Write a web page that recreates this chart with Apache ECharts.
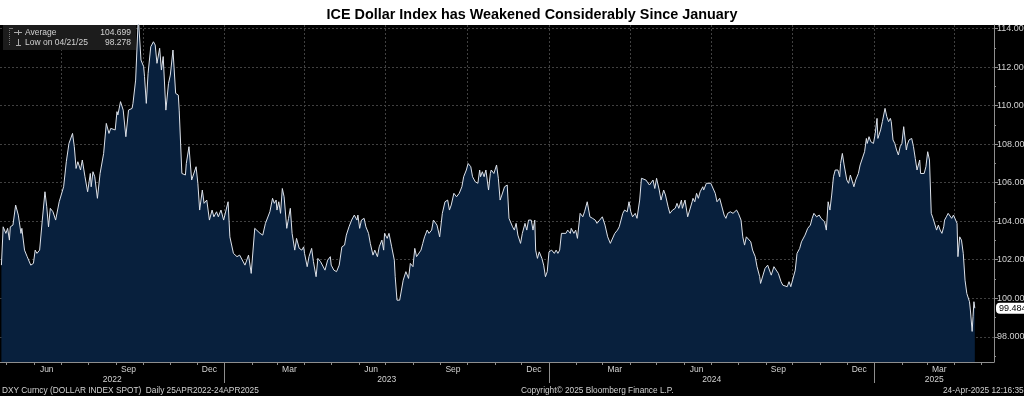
<!DOCTYPE html>
<html>
<head>
<meta charset="utf-8">
<title>ICE Dollar Index</title>
<script src="https://cdn.jsdelivr.net/npm/echarts@6/dist/echarts.min.js"></script>
<style>
  html, body { margin: 0; padding: 0; background: #fff; }
  #chart { width: 1024px; height: 396px; }
</style>
</head>
<body>
<div id="chart"></div>
<script>
// DXY spot (25APR2022 - 24APR2025)
const dates = [
  '2022-04-25','2022-04-27','2022-04-30','2022-05-02','2022-05-04','2022-05-05','2022-05-08','2022-05-11','2022-05-14','2022-05-17',
  '2022-05-18','2022-05-21','2022-05-24','2022-05-28','2022-05-31','2022-06-02','2022-06-04','2022-06-07','2022-06-10','2022-06-13',
  '2022-06-15','2022-06-17','2022-06-19','2022-06-22','2022-06-25','2022-06-29','2022-07-01','2022-07-04','2022-07-07','2022-07-08',
  '2022-07-10','2022-07-12','2022-07-14','2022-07-16','2022-07-18','2022-07-20','2022-07-23','2022-07-25','2022-07-28','2022-07-31',
  '2022-08-03','2022-08-04','2022-08-06','2022-08-08','2022-08-11','2022-08-12','2022-08-14','2022-08-16','2022-08-18','2022-08-21',
  '2022-08-24','2022-08-26','2022-08-31','2022-09-02','2022-09-03','2022-09-06','2022-09-09','2022-09-12','2022-09-15','2022-09-19',
  '2022-09-20','2022-09-23','2022-09-26','2022-09-29','2022-10-02','2022-10-03','2022-10-05','2022-10-07','2022-10-10','2022-10-13',
  '2022-10-15','2022-10-17','2022-10-20','2022-10-22','2022-10-24','2022-10-27','2022-10-30','2022-11-01','2022-11-03','2022-11-04',
  '2022-11-07','2022-11-10','2022-11-11','2022-11-14','2022-11-18','2022-11-19','2022-11-22','2022-11-25','2022-11-27','2022-11-30',
  '2022-12-02','2022-12-04','2022-12-07','2022-12-09','2022-12-12','2022-12-15','2022-12-18','2022-12-20','2022-12-23','2022-12-25',
  '2022-12-28','2022-12-31',
  '2023-01-05','2023-01-07','2023-01-11','2023-01-15','2023-01-18','2023-01-24','2023-01-28','2023-01-31','2023-02-04','2023-02-10',
  '2023-02-13','2023-02-16','2023-02-18','2023-02-21','2023-02-24','2023-02-26','2023-02-28','2023-03-01','2023-03-03','2023-03-05',
  '2023-03-07','2023-03-09','2023-03-12','2023-03-14','2023-03-16','2023-03-18','2023-03-21','2023-03-23','2023-03-26','2023-03-29',
  '2023-03-31','2023-04-01','2023-04-04','2023-04-06','2023-04-09','2023-04-11','2023-04-14','2023-04-16','2023-04-19','2023-04-21',
  '2023-04-24','2023-04-27','2023-04-30','2023-05-01','2023-05-04','2023-05-07','2023-05-10','2023-05-13','2023-05-16','2023-05-18',
  '2023-05-21','2023-05-24','2023-05-27','2023-05-30','2023-05-31','2023-06-02','2023-06-04','2023-06-07','2023-06-09','2023-06-12',
  '2023-06-14','2023-06-17','2023-06-19','2023-06-22','2023-06-24','2023-06-27','2023-06-29','2023-06-30','2023-07-03','2023-07-05',
  '2023-07-08','2023-07-11','2023-07-12','2023-07-14','2023-07-17','2023-07-19','2023-07-21','2023-07-24','2023-07-27','2023-07-29',
  '2023-08-01','2023-08-03','2023-08-05','2023-08-07','2023-08-10','2023-08-12','2023-08-14','2023-08-17','2023-08-19','2023-08-22',
  '2023-08-24','2023-08-26','2023-08-28','2023-08-31','2023-09-03','2023-09-06','2023-09-09','2023-09-11','2023-09-13','2023-09-16',
  '2023-09-19','2023-09-22','2023-09-25','2023-09-27','2023-09-30','2023-10-02','2023-10-05','2023-10-07','2023-10-10','2023-10-13',
  '2023-10-15','2023-10-16','2023-10-18','2023-10-20','2023-10-22','2023-10-25','2023-10-27','2023-10-28','2023-10-31','2023-11-03',
  '2023-11-05','2023-11-07','2023-11-09','2023-11-12','2023-11-15','2023-11-17','2023-11-19','2023-11-21','2023-11-23','2023-11-25',
  '2023-11-27','2023-11-30','2023-12-02','2023-12-05','2023-12-07','2023-12-09','2023-12-11','2023-12-12','2023-12-14','2023-12-16',
  '2023-12-17','2023-12-19','2023-12-21','2023-12-24','2023-12-26','2023-12-28','2023-12-30',
  '2024-01-01','2024-01-04','2024-01-07','2024-01-09','2024-01-11','2024-01-13','2024-01-15','2024-01-17','2024-01-20','2024-01-22',
  '2024-01-25','2024-01-26','2024-01-29','2024-01-31','2024-02-02','2024-02-05','2024-02-08','2024-02-10','2024-02-13','2024-02-16',
  '2024-02-19','2024-02-22','2024-02-24','2024-02-27','2024-03-01','2024-03-04','2024-03-07','2024-03-10','2024-03-12','2024-03-15',
  '2024-03-18','2024-03-20','2024-03-22','2024-03-24','2024-03-26','2024-03-29','2024-03-31','2024-04-02','2024-04-04','2024-04-07',
  '2024-04-09','2024-04-12','2024-04-14','2024-04-16','2024-04-19','2024-04-21','2024-04-23','2024-04-25','2024-04-27','2024-04-29',
  '2024-05-01','2024-05-04','2024-05-06','2024-05-09','2024-05-11','2024-05-14','2024-05-16','2024-05-19','2024-05-22','2024-05-24',
  '2024-05-26','2024-05-29','2024-05-30','2024-06-02','2024-06-05','2024-06-07','2024-06-10','2024-06-11','2024-06-13','2024-06-15',
  '2024-06-17','2024-06-19','2024-06-22','2024-06-23','2024-06-26','2024-06-28','2024-07-01','2024-07-03','2024-07-06','2024-07-08',
  '2024-07-11','2024-07-13','2024-07-16','2024-07-18','2024-07-20','2024-07-23','2024-07-26','2024-07-28','2024-07-30','2024-08-01',
  '2024-08-04','2024-08-06','2024-08-08','2024-08-10','2024-08-12','2024-08-15','2024-08-17','2024-08-20','2024-08-22','2024-08-25',
  '2024-08-26','2024-08-28','2024-08-31','2024-09-03','2024-09-05','2024-09-07','2024-09-10','2024-09-12','2024-09-15','2024-09-18',
  '2024-09-20','2024-09-22','2024-09-25','2024-09-27','2024-09-29','2024-10-01','2024-10-04','2024-10-06','2024-10-09','2024-10-11',
  '2024-10-13','2024-10-15','2024-10-18','2024-10-21','2024-10-23','2024-10-25','2024-10-28','2024-10-31','2024-11-02','2024-11-04',
  '2024-11-06','2024-11-08','2024-11-10','2024-11-12','2024-11-14','2024-11-16','2024-11-18','2024-11-21','2024-11-23','2024-11-24',
  '2024-11-26','2024-11-28','2024-12-01','2024-12-03','2024-12-05','2024-12-06','2024-12-09','2024-12-11','2024-12-14','2024-12-16',
  '2024-12-18','2024-12-21','2024-12-23','2024-12-24','2024-12-26','2024-12-28','2024-12-31',
  '2025-01-02','2025-01-04','2025-01-05','2025-01-08','2025-01-10','2025-01-13','2025-01-15','2025-01-17','2025-01-19','2025-01-20',
  '2025-01-22','2025-01-24','2025-01-26','2025-01-28','2025-01-30','2025-02-01','2025-02-03','2025-02-04','2025-02-06','2025-02-07',
  '2025-02-09','2025-02-12','2025-02-14','2025-02-16','2025-02-18','2025-02-19','2025-02-21','2025-02-22','2025-02-24','2025-02-26',
  '2025-02-28','2025-03-02','2025-03-04','2025-03-06','2025-03-08','2025-03-10','2025-03-12','2025-03-14','2025-03-16','2025-03-18',
  '2025-03-20','2025-03-21','2025-03-23','2025-03-25','2025-03-27','2025-03-29','2025-03-31','2025-04-02','2025-04-04','2025-04-05',
  '2025-04-07','2025-04-09','2025-04-11','2025-04-13','2025-04-15','2025-04-17','2025-04-18','2025-04-19','2025-04-20','2025-04-21',
  '2025-04-22','2025-04-23','2025-04-24'
];
const values = [
  101.72,103.71,103.37,103.63,103.02,103.71,103.80,104.84,104.32,103.37,
  103.63,102.50,102.16,101.72,101.81,102.50,102.33,102.50,104.06,105.53,
  104.75,103.71,104.67,104.49,104.06,105.01,105.10,105.79,107.09,107.18,
  108.04,108.13,108.56,107.87,106.74,107.09,106.66,107.18,106.31,105.53,
  106.48,105.79,106.57,106.31,105.19,105.19,106.48,106.57,107.52,109.08,
  108.56,108.82,108.74,109.69,109.52,110.21,109.77,108.39,109.77,109.86,
  110.12,111.33,114.60,112.37,112.03,111.51,110.12,111.68,113.06,113.32,
  113.15,112.20,112.98,111.85,112.55,109.77,111.16,111.59,111.51,112.89,
  110.64,110.55,109.77,106.48,106.40,107.00,107.87,106.14,106.05,106.83,
  105.97,104.58,105.62,104.93,105.10,104.06,104.58,104.23,104.49,104.23,
  104.58,104.06,
  105.01,103.19,102.33,102.16,102.24,101.72,102.24,101.29,103.63,103.37,
  103.28,103.89,103.97,104.49,105.19,104.93,105.10,104.58,105.01,104.41,
  105.70,105.27,103.63,104.15,104.67,103.37,102.50,103.11,102.59,102.50,
  102.67,102.33,101.64,102.16,102.59,101.90,101.12,102.07,101.90,101.98,
  101.46,101.98,102.16,101.72,101.46,101.38,101.72,102.67,102.76,103.28,
  103.71,104.06,104.32,104.06,104.32,103.63,104.06,104.15,103.71,103.37,
  102.85,102.24,102.50,102.16,102.67,103.02,102.50,103.37,103.11,103.37,
  102.67,101.98,101.12,99.90,99.90,99.99,100.94,101.38,101.03,101.81,
  101.64,102.59,102.16,102.07,102.50,102.85,103.19,103.54,103.37,103.54,
  104.06,104.06,103.80,103.19,104.41,105.01,105.10,104.58,104.84,105.45,
  105.27,105.45,105.79,106.31,106.66,107.00,106.83,106.31,106.05,105.97,
  106.66,106.31,106.57,106.31,106.66,105.62,106.48,106.66,106.48,106.92,
  106.23,105.10,105.36,105.79,105.88,104.15,104.15,103.71,103.54,103.89,
  103.28,102.85,103.37,103.89,103.54,104.06,104.15,104.06,103.54,104.06,
  102.50,102.07,102.41,102.07,101.72,101.12,101.38,
  102.41,102.50,102.33,102.50,102.33,102.50,103.37,103.45,103.37,103.54,
  103.37,103.63,103.37,103.54,103.11,104.41,104.23,104.49,105.01,104.23,
  104.15,104.06,103.89,104.06,104.23,103.80,103.19,102.85,102.93,103.37,
  103.54,103.71,104.06,104.41,104.58,104.49,105.01,104.49,104.23,104.41,
  104.15,105.10,106.23,106.31,106.14,106.23,105.88,105.79,106.14,105.70,
  106.23,105.62,105.10,105.62,105.36,104.75,104.41,104.58,104.67,104.93,
  104.67,105.10,104.67,105.10,104.23,104.15,105.01,105.19,105.01,105.45,
  105.19,105.53,105.79,105.62,105.97,106.05,105.97,105.88,105.45,105.01,
  105.19,104.84,104.32,104.15,104.41,104.49,104.41,104.49,104.58,104.41,
  104.06,103.19,102.76,103.19,103.19,102.93,102.50,102.16,101.64,101.12,
  100.77,100.68,101.55,101.72,101.81,101.20,101.64,101.72,101.29,100.86,
  100.68,100.77,100.60,100.86,100.60,100.51,101.46,102.33,102.59,102.93,
  103.02,103.28,103.63,103.80,104.15,104.41,104.23,104.32,104.15,104.23,
  103.97,103.54,105.01,104.58,105.36,106.31,106.66,106.66,106.31,107.00,
  107.52,106.92,106.14,105.97,106.40,106.31,105.79,106.14,106.48,106.92,
  107.00,107.61,108.30,108.04,108.39,108.13,108.04,
  108.56,109.34,108.30,108.74,109.17,109.86,109.43,109.17,109.34,109.17,
  108.22,108.04,107.70,107.44,107.87,108.04,108.91,108.99,107.70,107.96,
  108.22,108.30,107.87,107.26,106.66,106.57,107.18,106.48,106.40,106.48,
  106.83,107.61,107.18,104.41,104.15,104.06,103.54,103.80,103.54,103.37,
  103.71,104.06,104.23,104.41,104.49,104.15,104.32,104.23,103.89,102.16,
  103.19,103.02,102.33,100.94,100.25,100.16,99.82,99.39,99.39,98.278,
  99.04,99.82,99.484
];

const yTicks = [98, 100, 102, 104, 106, 108, 110, 112, 114];
const yMinorTicks = [97, 99, 101, 103, 105, 107, 109, 111, 113];
const monthLabelDates = [
  '2022-06-15','2022-09-15','2022-12-15','2023-03-15','2023-06-15','2023-09-15',
  '2023-12-15','2024-03-15','2024-06-15','2024-09-15','2024-12-15','2025-03-15'
];
const monthNames = ['Jan','Feb','Mar','Apr','May','Jun','Jul','Aug','Sep','Oct','Nov','Dec'];
const years = [2022, 2023, 2024, 2025];

const titleText = 'ICE Dollar Index has Weakened Considerably Since January';
const avgValue = 104.699;
const lowValue = 98.278;
const lowLabel = 'Low on 04/21/25';
const footerLeft = 'DXY Curncy (DOLLAR INDEX SPOT)  Daily 25APR2022-24APR2025';
const footerMid = 'Copyright\u00a9 2025 Bloomberg Finance L.P.';
const footerRight = '24-Apr-2025 12:16:35';

const font = '"Liberation Sans", Arial, sans-serif';
const textColor = '#d2d2d2';
const axisColor = '#8e8e8e';
const gridColor = '#404040';

// local-time timestamp from 'YYYY-MM-DD'
function toTime(s) {
  const p = s.split('-').map(Number);
  return new Date(p[0], p[1] - 1, p[2]).getTime();
}

const xMin = new Date(2022, 3, 23, 10).getTime();
const xMax = new Date(2025, 4, 15, 14).getTime();

// month start ticks, quarter gridlines, year separators
const monthTicks = [];
for (let y = 2022, m = 4; y < 2025 || m <= 4; m++) {
  if (m > 11) { m = 0; y++; }
  monthTicks.push(new Date(y, m, 1).getTime());
}
const quarterStarts = monthTicks.filter(t => new Date(t).getMonth() % 3 === 0);
const yearStarts = monthTicks.filter(t => new Date(t).getMonth() === 0);
const yearLabelPos = years.map(y => {
  const a = Math.max(xMin, new Date(y, 0, 1).getTime());
  const b = Math.min(xMax, new Date(y + 1, 0, 1).getTime());
  return (a + b) / 2;
});

const seriesData = dates.map((d, i) => [toTime(d), values[i]]);
const lastValue = values[values.length - 1];

// value axes holding timestamps (custom tick positions)
function xBase(extra) {
  return Object.assign({
    type: 'value', min: xMin, max: xMax, position: 'bottom', offset: 0,
    axisLine: { show: false }, axisTick: { show: false },
    axisLabel: { show: false }, splitLine: { show: false }
  }, extra);
}

const chart = echarts.init(document.getElementById('chart'));
const option = {
  animation: false,
  backgroundColor: '#000',
  title: {
    text: titleText, left: 527, textAlign: 'center', top: 3,
    textStyle: { fontSize: 14.4, fontWeight: 'bold', color: '#000', fontFamily: font }
  },
  grid: { left: 0, right: 30, top: 25, bottom: 34, containLabel: false, outerBoundsMode: 'none' },
  xAxis: [
    xBase({
      axisLine: { show: true, lineStyle: { color: axisColor, width: 1 } },
      axisTick: { show: true, customValues: monthTicks, length: 3, lineStyle: { color: axisColor } },
      axisLabel: {
        show: true, customValues: monthLabelDates.map(toTime), margin: 3,
        color: textColor, fontSize: 8.5, fontFamily: font,
        formatter: v => monthNames[new Date(v).getMonth()]
      }
    }),
    xBase({
      axisTick: { show: false, customValues: quarterStarts },
      splitLine: { show: true, lineStyle: { color: gridColor, type: [2, 2], width: 1 } }
    }),
    xBase({
      axisTick: { show: true, customValues: yearStarts, length: 21, lineStyle: { color: axisColor } },
      axisLabel: {
        show: true, customValues: yearLabelPos, margin: 13,
        color: textColor, fontSize: 8.5, fontFamily: font,
        formatter: v => String(new Date(v).getFullYear())
      }
    })
  ],
  yAxis: [
    {
      type: 'value', position: 'right', min: 96.69, max: 114.19,
      axisLine: { show: true, lineStyle: { color: axisColor } },
      axisTick: { show: true, customValues: yTicks, length: 4, lineStyle: { color: axisColor } },
      axisLabel: {
        customValues: yTicks, margin: 3, color: textColor, fontSize: 9, fontFamily: font,
        formatter: v => v.toFixed(3)
      },
      splitLine: { show: true, lineStyle: { color: gridColor, type: [2, 2], width: 1 } }
    },
    {
      type: 'value', position: 'right', min: 96.69, max: 114.19,
      axisLine: { show: false },
      axisTick: { show: true, customValues: yMinorTicks, length: 2, lineStyle: { color: axisColor } },
      axisLabel: { show: false },
      splitLine: { show: false }
    }
  ],
  series: [{
    type: 'line',
    data: seriesData,
    xAxisIndex: 0,
    yAxisIndex: 0,
    showSymbol: false,
    symbol: 'none',
    silent: true,
    lineStyle: { color: '#dde2ea', width: 1 },
    areaStyle: { color: '#08203d', opacity: 1 },
    markLine: {
      silent: true,
      symbol: 'none',
      lineStyle: { color: 'rgba(0,0,0,0)', width: 0 },
      data: [{ yAxis: lastValue }],
      label: {
        show: true, position: 'end', distance: 2,
        formatter: () => lastValue.toFixed(3),
        backgroundColor: '#fff', color: '#000', borderRadius: 4,
        padding: [1, 3, 1, 3], fontSize: 9, fontFamily: font
      }
    }
  }],
  graphic: [
    { type: 'rect', x: 0, y: 0, z: 0, shape: { width: 1024, height: 25 }, style: { fill: '#fff' } },
    { type: 'rect', x: 3, y: 25, z: 10, shape: { width: 133, height: 25 }, style: { fill: '#1c1c1c' } },
    { type: 'line', z: 11, shape: { x1: 9.5, y1: 28, x2: 9.5, y2: 46 }, style: { stroke: '#777', lineDash: [1, 1] } },
    { type: 'line', z: 11, shape: { x1: 9.5, y1: 28.5, x2: 13, y2: 28.5 }, style: { stroke: '#777' } },
    { type: 'line', z: 11, shape: { x1: 14, y1: 32.5, x2: 22, y2: 32.5 }, style: { stroke: '#aaa' } },
    { type: 'line', z: 11, shape: { x1: 18.5, y1: 30, x2: 18.5, y2: 35 }, style: { stroke: '#aaa' } },
    { type: 'line', z: 11, shape: { x1: 18.5, y1: 39, x2: 18.5, y2: 45 }, style: { stroke: '#aaa' } },
    { type: 'line', z: 11, shape: { x1: 16, y1: 45.5, x2: 21, y2: 45.5 }, style: { stroke: '#aaa' } },
    { type: 'text', z: 11, x: 25, y: 32.5, style: { text: 'Average', fill: textColor, fontSize: 8.5, fontFamily: font, verticalAlign: 'middle' } },
    { type: 'text', z: 11, x: 131, y: 32.5, style: { text: avgValue.toFixed(3), fill: textColor, fontSize: 8.5, fontFamily: font, align: 'right', verticalAlign: 'middle' } },
    { type: 'text', z: 11, x: 25, y: 43, style: { text: lowLabel, fill: textColor, fontSize: 8.5, fontFamily: font, verticalAlign: 'middle' } },
    { type: 'text', z: 11, x: 131, y: 43, style: { text: lowValue.toFixed(3), fill: textColor, fontSize: 8.5, fontFamily: font, align: 'right', verticalAlign: 'middle' } },
    { type: 'text', z: 11, x: 2, y: 391, style: { text: footerLeft, fill: textColor, fontSize: 8.3, fontFamily: font, verticalAlign: 'middle' } },
    { type: 'text', z: 11, x: 521, y: 391, style: { text: footerMid, fill: textColor, fontSize: 8.3, fontFamily: font, verticalAlign: 'middle' } },
    { type: 'text', z: 11, x: 943, y: 391, style: { text: footerRight, fill: textColor, fontSize: 8.3, fontFamily: font, verticalAlign: 'middle' } }
  ]
};
chart.setOption(option);
window.addEventListener('resize', function () {
  chart.resize();
});
</script>
</body>
</html>
